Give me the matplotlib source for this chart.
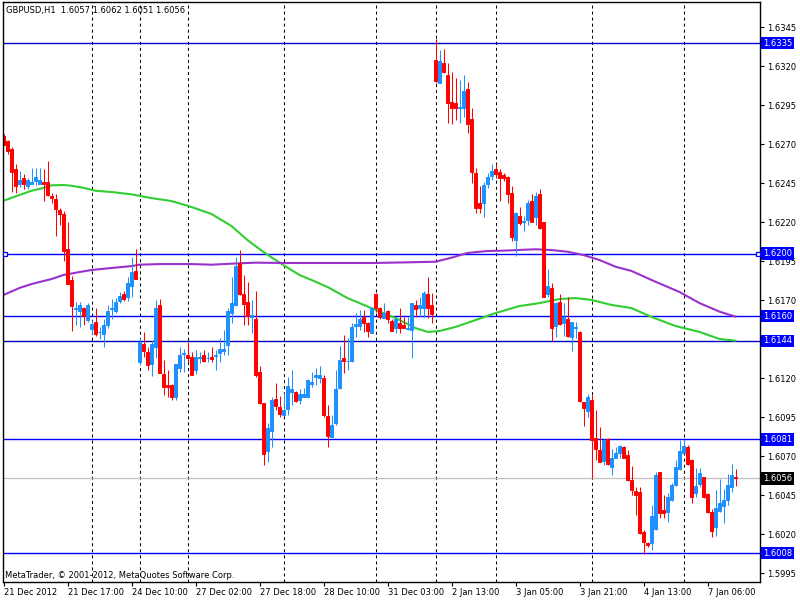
import matplotlib
matplotlib.use("Agg")
import matplotlib.pyplot as plt
import matplotlib.transforms as mtransforms

# GBPUSD H1 bars (open, high, low, close), bar 0 = 21 Dec 2012
opens = [1.62754, 1.62721, 1.62670, 1.62540, 1.62446, 1.62486, 1.62435, 1.62448, 1.62467, 1.62448,
         1.62459, 1.62457, 1.62369, 1.62350, 1.62279, 1.62254, 1.62029, 1.61830, 1.61647, 1.61634,
         1.61651, 1.61576, 1.61516, 1.61559, 1.61495, 1.61484, 1.61544, 1.61647, 1.61632, 1.61698,
         1.61741, 1.61719, 1.61792, 1.61888, 1.61307, 1.61420, 1.61371, 1.61290, 1.61403, 1.61670,
         1.61228, 1.61157, 1.61157, 1.61083, 1.61269, 1.61356, 1.61350, 1.61339, 1.61254, 1.61331,
         1.61350, 1.61328, 1.61339, 1.61346, 1.61365, 1.61378, 1.61414, 1.61617, 1.61670, 1.61942,
         1.61739, 1.61692, 1.61592, 1.61579, 1.61239, 1.61040, 1.60737, 1.60865, 1.61066, 1.61015,
         1.60966, 1.61004, 1.61115, 1.61115, 1.61062, 1.61079, 1.61083, 1.61164, 1.61207, 1.61205,
         1.61205, 1.60959, 1.60827, 1.60916, 1.61137, 1.61331, 1.61310, 1.61312, 1.61538, 1.61538,
         1.61596, 1.61553, 1.61493, 1.61741, 1.61653, 1.61589, 1.61632, 1.61568, 1.61521, 1.61557,
         1.61542, 1.61516, 1.61510, 1.61670, 1.61649, 1.61653, 1.61741, 1.61670, 1.63241, 1.63095,
         1.63219, 1.63145, 1.62972, 1.62963, 1.62933, 1.62931, 1.63053, 1.62863, 1.62519, 1.62322,
         1.62322, 1.62446, 1.62497, 1.62542, 1.62525, 1.62504, 1.62493, 1.62391, 1.62087, 1.62241,
         1.62205, 1.62215, 1.62339, 1.62237, 1.62380, 1.62205, 1.61739, 1.61782, 1.61536, 1.61692,
         1.61557, 1.61579, 1.61468, 1.61521, 1.61500, 1.61051, 1.60993, 1.61062, 1.60816, 1.60741,
         1.60673, 1.60809, 1.60634, 1.60692, 1.60724, 1.60762, 1.60709, 1.60548, 1.60478, 1.60469,
         1.60217, 1.60147, 1.60147, 1.60232, 1.60598, 1.60356, 1.60346, 1.60420, 1.60516, 1.60617,
         1.60724, 1.60762, 1.60677, 1.60463, 1.60523, 1.60566, 1.60457, 1.60346, 1.60245, 1.60352,
         1.60382, 1.60420, 1.60506, 1.60570]
highs = [1.62766, 1.62728, 1.62685, 1.62574, 1.62529, 1.62510, 1.62482, 1.62551, 1.62551, 1.62551,
         1.62542, 1.62593, 1.62386, 1.62380, 1.62290, 1.62271, 1.62202, 1.61858, 1.61687, 1.61687,
         1.61660, 1.61683, 1.61574, 1.61651, 1.61531, 1.61580, 1.61672, 1.61709, 1.61713, 1.61751,
         1.61758, 1.61850, 1.61980, 1.62029, 1.61457, 1.61495, 1.61403, 1.61446, 1.61702, 1.61709,
         1.61318, 1.61254, 1.61162, 1.61292, 1.61403, 1.61388, 1.61435, 1.61367, 1.61382, 1.61371,
         1.61382, 1.61367, 1.61403, 1.61382, 1.61461, 1.61510, 1.61649, 1.61852, 1.61980, 1.62023,
         1.61863, 1.61820, 1.61703, 1.61760, 1.61280, 1.61045, 1.60912, 1.61083, 1.61169, 1.61087,
         1.61109, 1.61207, 1.61254, 1.61119, 1.61130, 1.61137, 1.61194, 1.61243, 1.61265, 1.61280,
         1.61222, 1.61030, 1.60966, 1.61254, 1.61408, 1.61478, 1.61457, 1.61553, 1.61617, 1.61639,
         1.61639, 1.61564, 1.61656, 1.61746, 1.61660, 1.61681, 1.61638, 1.61578, 1.61596, 1.61653,
         1.61596, 1.61596, 1.61681, 1.61702, 1.61724, 1.61762, 1.61852, 1.61745, 1.63375, 1.63305,
         1.63311, 1.63224, 1.63162, 1.63128, 1.63113, 1.63145, 1.63098, 1.62931, 1.62546, 1.62435,
         1.62461, 1.62519, 1.62574, 1.62574, 1.62542, 1.62519, 1.62497, 1.62433, 1.62269, 1.62301,
         1.62241, 1.62344, 1.62382, 1.62393, 1.62414, 1.62205, 1.61901, 1.61814, 1.61692, 1.61741,
         1.61681, 1.61724, 1.61564, 1.61564, 1.61504, 1.61051, 1.61098, 1.61094, 1.60998, 1.60891,
         1.60812, 1.60816, 1.60745, 1.60758, 1.60773, 1.60767, 1.60741, 1.60638, 1.60506, 1.60506,
         1.60228, 1.60153, 1.60388, 1.60602, 1.60598, 1.60452, 1.60463, 1.60531, 1.60677, 1.60805,
         1.60805, 1.60773, 1.60681, 1.60628, 1.60623, 1.60570, 1.60463, 1.60361, 1.60484, 1.60553,
         1.60489, 1.60587, 1.60651, 1.60620]
lows = [1.62694, 1.62638, 1.62397, 1.62386, 1.62429, 1.62416, 1.62416, 1.62446, 1.62437, 1.62446,
        1.62339, 1.62371, 1.62326, 1.62113, 1.62183, 1.61954, 1.61805, 1.61506, 1.61544, 1.61527,
        1.61542, 1.61559, 1.61484, 1.61474, 1.61450, 1.61403, 1.61525, 1.61583, 1.61617, 1.61681,
        1.61698, 1.61698, 1.61724, 1.61835, 1.61286, 1.61335, 1.61254, 1.61217, 1.61333, 1.61232,
        1.61094, 1.61083, 1.61061, 1.61061, 1.61239, 1.61243, 1.61303, 1.61222, 1.61226, 1.61296,
        1.61307, 1.61303, 1.61307, 1.61254, 1.61303, 1.61350, 1.61350, 1.61557, 1.61664, 1.61734,
        1.61542, 1.61542, 1.61489, 1.61207, 1.61036, 1.60645, 1.60666, 1.60763, 1.60998, 1.60951,
        1.60966, 1.60966, 1.61030, 1.61051, 1.61036, 1.61079, 1.61079, 1.61143, 1.61158, 1.61169,
        1.60951, 1.60763, 1.60823, 1.60901, 1.61132, 1.61237, 1.61254, 1.61307, 1.61463, 1.61510,
        1.61496, 1.61468, 1.61489, 1.61628, 1.61578, 1.61585, 1.61557, 1.61504, 1.61493, 1.61493,
        1.61521, 1.61510, 1.61328, 1.61596, 1.61596, 1.61596, 1.61585, 1.61557, 1.63095, 1.63095,
        1.63155, 1.62839, 1.62828, 1.62856, 1.62839, 1.62878, 1.62771, 1.62450, 1.62258, 1.62258,
        1.62237, 1.62418, 1.62472, 1.62487, 1.62339, 1.62468, 1.62322, 1.62083, 1.61987, 1.62183,
        1.62145, 1.62183, 1.62200, 1.62183, 1.62158, 1.61724, 1.61724, 1.61440, 1.61468, 1.61542,
        1.61474, 1.61468, 1.61378, 1.61457, 1.61051, 1.60895, 1.60955, 1.60559, 1.60677, 1.60666,
        1.60645, 1.60645, 1.60581, 1.60688, 1.60688, 1.60688, 1.60544, 1.60452, 1.60324, 1.60202,
        1.60074, 1.60117, 1.60100, 1.60228, 1.60303, 1.60303, 1.60281, 1.60414, 1.60510, 1.60613,
        1.60719, 1.60645, 1.60403, 1.60442, 1.60506, 1.60431, 1.60339, 1.60185, 1.60190, 1.60346,
        1.60275, 1.60388, 1.60474, 1.60510]
closes = [1.62698, 1.62660, 1.62525, 1.62433, 1.62471, 1.62444, 1.62469, 1.62461, 1.62493, 1.62471,
          1.62446, 1.62377, 1.62358, 1.62286, 1.62254, 1.62018, 1.61807, 1.61666, 1.61651, 1.61672,
          1.61598, 1.61672, 1.61548, 1.61484, 1.61499, 1.61542, 1.61630, 1.61653, 1.61687, 1.61728,
          1.61707, 1.61812, 1.61884, 1.61837, 1.61435, 1.61378, 1.61286, 1.61420, 1.61649, 1.61237,
          1.61147, 1.61147, 1.61078, 1.61292, 1.61350, 1.61360, 1.61328, 1.61222, 1.61335, 1.61335,
          1.61313, 1.61333, 1.61324, 1.61350, 1.61388, 1.61388, 1.61632, 1.61681, 1.61920, 1.61739,
          1.61677, 1.61600, 1.61607, 1.61222, 1.61040, 1.60716, 1.60880, 1.61062, 1.61023, 1.60972,
          1.60998, 1.61152, 1.61132, 1.61057, 1.61098, 1.61100, 1.61190, 1.61175, 1.61222, 1.61222,
          1.60966, 1.60833, 1.60901, 1.61132, 1.61318, 1.61312, 1.61314, 1.61532, 1.61549, 1.61581,
          1.61557, 1.61506, 1.61649, 1.61649, 1.61595, 1.61621, 1.61578, 1.61506, 1.61578, 1.61525,
          1.61525, 1.61521, 1.61681, 1.61645, 1.61670, 1.61745, 1.61649, 1.61613, 1.63108, 1.63234,
          1.63162, 1.62963, 1.62935, 1.62931, 1.62937, 1.63044, 1.62828, 1.62525, 1.62290, 1.62290,
          1.62439, 1.62493, 1.62529, 1.62508, 1.62487, 1.62482, 1.62380, 1.62104, 1.62258, 1.62198,
          1.62211, 1.62326, 1.62205, 1.62371, 1.62162, 1.61724, 1.61792, 1.61525, 1.61685, 1.61547,
          1.61596, 1.61474, 1.61559, 1.61527, 1.61057, 1.61012, 1.61079, 1.60805, 1.60745, 1.60666,
          1.60805, 1.60649, 1.60688, 1.60720, 1.60767, 1.60692, 1.60548, 1.60484, 1.60452, 1.60207,
          1.60153, 1.60132, 1.60318, 1.60581, 1.60339, 1.60335, 1.60442, 1.60516, 1.60634, 1.60737,
          1.60769, 1.60649, 1.60442, 1.60510, 1.60591, 1.60442, 1.60346, 1.60224, 1.60367, 1.60399,
          1.60420, 1.60516, 1.60581, 1.60560]

# moving averages (bar index, value)
green_idx = [0, 4, 7, 10, 12, 15, 17, 20, 23, 27, 32, 37, 42, 47, 52, 57, 61, 65, 70, 74, 77, 81,
             86, 89, 93, 98, 103, 106, 109, 113, 118, 123, 129, 134, 139, 143, 147, 152, 157, 162,
             168, 174, 179, 183]
green_ma = [1.62339, 1.62376, 1.62403, 1.62421, 1.62438, 1.62440, 1.62435, 1.62422, 1.62403, 1.62395,
            1.62380, 1.62356, 1.62337, 1.62299, 1.62254, 1.62177, 1.62087, 1.62010, 1.61926, 1.61863,
            1.61831, 1.61786, 1.61715, 1.61683, 1.61639, 1.61587, 1.61523, 1.61498, 1.61504, 1.61530,
            1.61574, 1.61619, 1.61664, 1.61683, 1.61709, 1.61715, 1.61703, 1.61671, 1.61651, 1.61594,
            1.61536, 1.61498, 1.61453, 1.61442]
purple_idx = [0, 4, 7, 12, 15, 19, 22, 27, 32, 34, 39, 47, 52, 59, 63, 70, 82, 93, 108, 112, 116,
              121, 125, 133, 137, 141, 145, 149, 153, 157, 162, 169, 174, 179, 183]
purple_ma = [1.61735, 1.61780, 1.61805, 1.61837, 1.61863, 1.61882, 1.61895, 1.61908, 1.61920, 1.61929,
             1.61933, 1.61933, 1.61929, 1.61938, 1.61942, 1.61940, 1.61940, 1.61940, 1.61948, 1.61974,
             1.62004, 1.62017, 1.62019, 1.62028, 1.62023, 1.62012, 1.61991, 1.61959, 1.61916, 1.61889,
             1.61831, 1.61754, 1.61683, 1.61628, 1.61596]

# horizontal lines drawn by the user
level_prices = [1.6335, 1.6200, 1.6160, 1.6144, 1.6081, 1.6008]
level_colors = ['#0000c8', '#0000ff', '#0000ff', '#0000c0', '#0000ff', '#0000ff']
bid_price = 1.6056

# day separators and time axis
separator_idx = [22, 34, 46, 70, 93, 108, 123, 147, 170]
time_tick_idx = [0, 16, 32, 48, 64, 80, 96, 112, 128, 144, 160, 176]
time_labels = ['21 Dec 2012', '21 Dec 17:00', '24 Dec 10:00', '27 Dec 02:00', '27 Dec 18:00',
               '28 Dec 10:00', '31 Dec 03:00', '2 Jan 13:00', '3 Jan 05:00', '3 Jan 21:00',
               '4 Jan 13:00', '7 Jan 06:00']
price_ticks = [1.5995, 1.6020, 1.6045, 1.6070, 1.6095, 1.6120, 1.6145, 1.6170, 1.6195,
               1.6220, 1.6245, 1.6270, 1.6295, 1.6320, 1.6345]
hidden_ticks = [1.6145]  # sits under the 1.6144 label box

bull_color = '#1e90ff'
bear_color = '#ff0000'
fs = 6

plt.rcParams['font.family'] = ['DejaVu Sans']
fig = plt.figure(figsize=(8, 6), dpi=100)
ax = fig.add_axes([3 / 800, 18 / 600, 757 / 800, 580 / 600])
ax.set_xlim(-0.125, 189.125)
ax.set_ylim(1.59895, 1.63613)

# separators
for s in separator_idx:
    ax.axvline(s, color='black', lw=0.75, dashes=(2.9, 2.9), zorder=1)

# levels
for p, c in zip(level_prices, level_colors):
    ax.axhline(p, color=c, lw=1.0, zorder=1.2)
ax.axhline(bid_price, color='#c0c0c0', lw=0.9, zorder=1.1)
ax.plot([0.35, 188.7], [1.6200, 1.6200], 's', ms=3.5, mfc='white', mec='#0000ff',
        mew=0.9, clip_on=False, zorder=5)

# moving averages
ax.plot(green_idx, green_ma, color='#32cd32', lw=1.5, zorder=1.5)
ax.plot(purple_idx, purple_ma, color='#9932cc', lw=1.5, zorder=1.5)

# candles
for i in range(len(opens)):
    o, h, l, c = opens[i], highs[i], lows[i], closes[i]
    col = bull_color if c >= o else bear_color
    ax.vlines(i, l, h, color=col, lw=0.75, zorder=2)
    body = abs(c - o)
    ax.bar(i, max(body, 0.000015), bottom=min(o, c), width=0.58, color=col,
           edgecolor=col, linewidth=0.7, zorder=2.1)

# axes style
for sp in ax.spines.values():
    sp.set_color('black')
    sp.set_linewidth(1.0)
ax.yaxis.tick_right()
ax.set_yticks(price_ticks)
ax.set_yticklabels(["" if p in hidden_ticks else f"{p:.4f}" for p in price_ticks])
ax.tick_params(axis='y', direction='out', length=3, width=0.8, labelsize=fs, pad=2)
ax.set_xticks(time_tick_idx)
ax.set_xticklabels(time_labels, ha='left')
ax.tick_params(axis='x', direction='out', length=3, width=0.8, labelsize=fs, pad=1.5)

# price labels on the right axis
trans = mtransforms.blended_transform_factory(ax.transAxes, ax.transData)
for p in level_prices:
    ax.text(1.004, p, f"{p:.4f}", transform=trans, color='white', fontsize=fs,
            ha='left', va='center', clip_on=False, zorder=6,
            bbox=dict(boxstyle='square,pad=0.22', fc='#0000ff', ec='none'))
ax.text(1.004, bid_price, f"{bid_price:.4f}", transform=trans, color='white', fontsize=fs,
        ha='left', va='center', clip_on=False, zorder=6,
        bbox=dict(boxstyle='square,pad=0.22', fc='black', ec='none'))

fig.text(6 / 800, 1 - 11 / 600, "GBPUSD,H1  1.6057 1.6062 1.6051 1.6056", fontsize=fs,
         va='center', ha='left')
fig.text(5 / 800, 1 - 575 / 600, "MetaTrader, \u00a9 2001-2012, MetaQuotes Software Corp.",
         fontsize=fs, va='center', ha='left')

fig.savefig('out.png', dpi=100)
